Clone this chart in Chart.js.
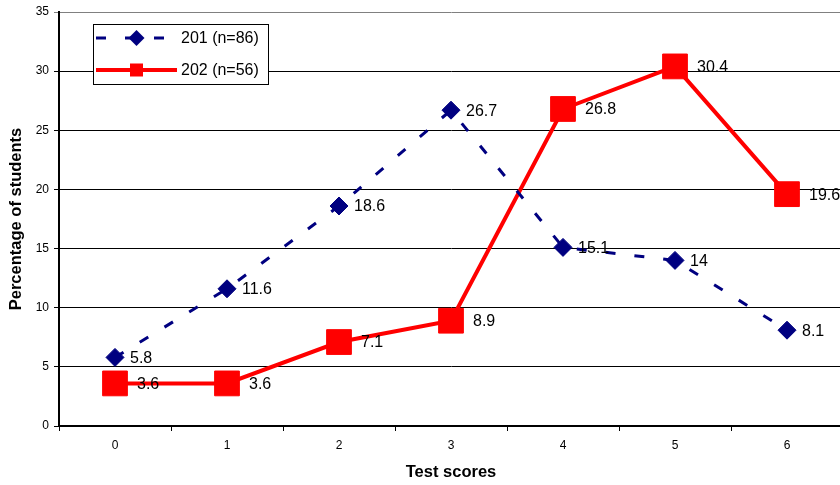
<!DOCTYPE html>
<html>
<head>
<meta charset="utf-8">
<script src="https://cdn.jsdelivr.net/npm/chart.js@4.4.1/dist/chart.umd.min.js"></script>
<style>
  html, body { margin: 0; padding: 0; background: #fff; overflow: hidden; }
  #wrap { position: relative; width: 850px; height: 485px; }
  canvas { display: block; }
</style>
</head>
<body>
<div id="wrap"><canvas id="c" width="850" height="485"></canvas></div>
<script>
// ---- data ----
const categories = ['0', '1', '2', '3', '4', '5', '6'];
const series201 = [5.8, 11.6, 18.6, 26.7, 15.1, 14, 8.1];
const series202 = [3.6, 3.6, 7.1, 8.9, 26.8, 30.4, 19.6];
const seriesNames = ['201 (n=86)', '202 (n=56)'];
const yTicks = [0, 5, 10, 15, 20, 25, 30, 35];

const FONT = 'Arial, "Liberation Sans", sans-serif';
const NAVY = '#000080';
const RED = '#FF0000';

const dataLabels = {
  id: 'dataLabels',
  afterDatasetsDraw(chart) {
    const ctx = chart.ctx;
    ctx.save();
    ctx.font = '16px ' + FONT;
    ctx.fillStyle = '#000';
    ctx.textAlign = 'left';
    ctx.textBaseline = 'middle';
    chart.data.datasets.forEach((ds, di) => {
      const meta = chart.getDatasetMeta(di);
      const off = ds.labelOffset;
      meta.data.forEach((pt, i) => {
        ctx.fillText(String(ds.data[i]), pt.x + off, pt.y + 1);
      });
    });
    ctx.restore();
  }
};

const boxLegend = {
  id: 'boxLegend',
  afterDraw(chart) {
    const ctx = chart.ctx;
    const x0 = 93, y0 = 24, w = 175, h = 60;
    ctx.save();
    ctx.fillStyle = '#fff';
    ctx.fillRect(x0, y0, w, h);
    ctx.strokeStyle = '#000';
    ctx.lineWidth = 1;
    ctx.strokeRect(x0 + 0.5, y0 + 0.5, w, h);
    const rows = [38, 70];
    chart.data.datasets.forEach((ds, i) => {
      const y = rows[i];
      ctx.save();
      ctx.strokeStyle = ds.borderColor;
      ctx.lineWidth = ds.borderWidth;
      ctx.setLineDash(ds.borderDash || []);
      ctx.beginPath();
      ctx.moveTo(96, y);
      ctx.lineTo(177, y);
      ctx.stroke();
      ctx.restore();
      ctx.fillStyle = ds.pointBackgroundColor;
      const cx = 136.5;
      if (ds.pointStyle === 'rectRot') {
        const r = 8;
        ctx.beginPath();
        ctx.moveTo(cx - r, y); ctx.lineTo(cx, y - r);
        ctx.lineTo(cx + r, y); ctx.lineTo(cx, y + r);
        ctx.closePath(); ctx.fill();
      } else {
        ctx.fillRect(cx - 6.5, y - 6.5, 13, 13);
      }
      ctx.fillStyle = '#000';
      ctx.font = '16px ' + FONT;
      ctx.textAlign = 'left';
      ctx.textBaseline = 'middle';
      ctx.fillText(ds.label, 181, y + 1);
    });
    ctx.restore();
  }
};

function zeroPad(scale) {
  scale.paddingTop = 0;
  scale.paddingBottom = 0;
  scale.paddingLeft = 0;
  scale.paddingRight = 0;
}

new Chart(document.getElementById('c'), {
  type: 'line',
  data: {
    labels: categories,
    datasets: [
      {
        label: seriesNames[0],
        data: series201,
        borderColor: NAVY,
        backgroundColor: NAVY,
        borderWidth: 3,
        borderDash: [10, 19],
        pointStyle: 'rectRot',
        pointRadius: 9,
        pointBackgroundColor: NAVY,
        pointBorderColor: NAVY,
        pointBorderWidth: 1,
        tension: 0,
        fill: false,
        labelOffset: 15
      },
      {
        label: seriesNames[1],
        data: series202,
        borderColor: RED,
        backgroundColor: RED,
        borderWidth: 4,
        pointStyle: 'rect',
        pointRadius: 17.5,
        pointBackgroundColor: RED,
        pointBorderColor: RED,
        pointBorderWidth: 1,
        tension: 0,
        fill: false,
        labelOffset: 22
      }
    ]
  },
  options: {
    responsive: false,
    animation: false,
    events: [],
    layout: { autoPadding: false, padding: { top: 12, right: 7, left: 0, bottom: 0 } },
    plugins: {
      legend: { display: false },
      tooltip: { enabled: false },
      title: { display: false }
    },
    scales: {
      x: {
        type: 'category',
        offset: true,
        grid: {
          offset: true,
          drawOnChartArea: false,
          drawTicks: true,
          tickLength: 5,
          color: '#000',
          lineWidth: 1
        },
        border: { display: true, color: '#000', width: 2 },
        ticks: { color: '#000', font: { family: FONT, size: 12 }, padding: 7, maxRotation: 0 },
        title: {
          display: true,
          text: 'Test scores',
          color: '#000',
          font: { family: FONT, size: 16.5, weight: 'bold' },
          padding: { top: 0, bottom: 3 }
        },
        afterFit(scale) { scale.height = 59; zeroPad(scale); }
      },
      y: {
        min: 0,
        max: 35,
        afterBuildTicks(scale) { scale.ticks = yTicks.map(v => ({ value: v })); },
        grid: {
          color: (c) => (c.tick && c.tick.value === 35 ? '#808080' : '#000'),
          lineWidth: 1,
          drawTicks: true,
          tickLength: 5
        },
        border: { display: true, color: '#000', width: 2 },
        ticks: { color: '#000', font: { family: FONT, size: 12 }, padding: 5 },
        title: {
          display: true,
          text: 'Percentage of students',
          color: '#000',
          font: { family: FONT, size: 16.5, weight: 'bold' },
          padding: { top: 7, bottom: 0 }
        },
        afterFit(scale) { scale.width = 59; zeroPad(scale); }
      }
    }
  },
  plugins: [dataLabels, boxLegend]
});
</script>
</body>
</html>
